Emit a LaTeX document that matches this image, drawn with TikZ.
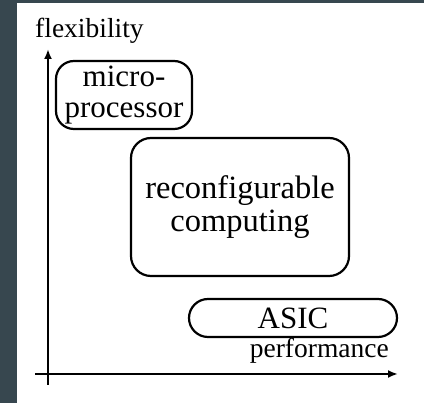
\documentclass[tikz,border=0pt]{standalone}
\usepackage{fontspec}
\setmainfont{Liberation Serif}
\usepackage{xcolor}
\usepackage{tikz}
\usetikzlibrary{positioning,arrows.meta}
\definecolor{slate}{HTML}{37474F}

\begin{document}
\begin{tikzpicture}[x=1pt,y=-1pt,
  archbox/.style={draw,line width=2.2pt,align=center,inner sep=0pt,
    font=\fontsize{31}{31}\selectfont},
  axislabel/.style={inner sep=0pt,font=\fontsize{27.5}{30}\selectfont},
  axis/.style={line width=2pt,-{Latex[length=10pt,width=8pt]}}]
% frame
\useasboundingbox (0,0) rectangle (424,403);
\fill[slate] (0,0) rectangle (424,403);
\fill[white] (17,3) rectangle (424,403);
% axes
\coordinate (ybot) at (48,385);
\coordinate (ytip) at (48,49);
\coordinate (xleft) at (35,374);
\coordinate (xtip) at (398,374);
\draw[axis] (ybot) -- (ytip);
\draw[axis] (xleft) -- (xtip);
\node[axislabel,anchor=base west] (flex) at (35,38) {flexibility};
\node[axislabel,anchor=base east] (perf) at (389,358) {performance};
% boxes
\node[archbox,rounded corners=18pt,minimum width=136pt,minimum height=68pt]
  (micro) at (124,95) {micro-\\processor};
\node[archbox,rounded corners=20pt,minimum width=218pt,minimum height=138pt,
  font=\fontsize{32.5}{32.5}\selectfont]
  (reconf) at (240,207) {reconfigurable\\computing};
\node[archbox,rounded corners=19pt,minimum width=208pt,minimum height=38pt]
  (asic) at (293,318) {ASIC};
\end{tikzpicture}
\end{document}
